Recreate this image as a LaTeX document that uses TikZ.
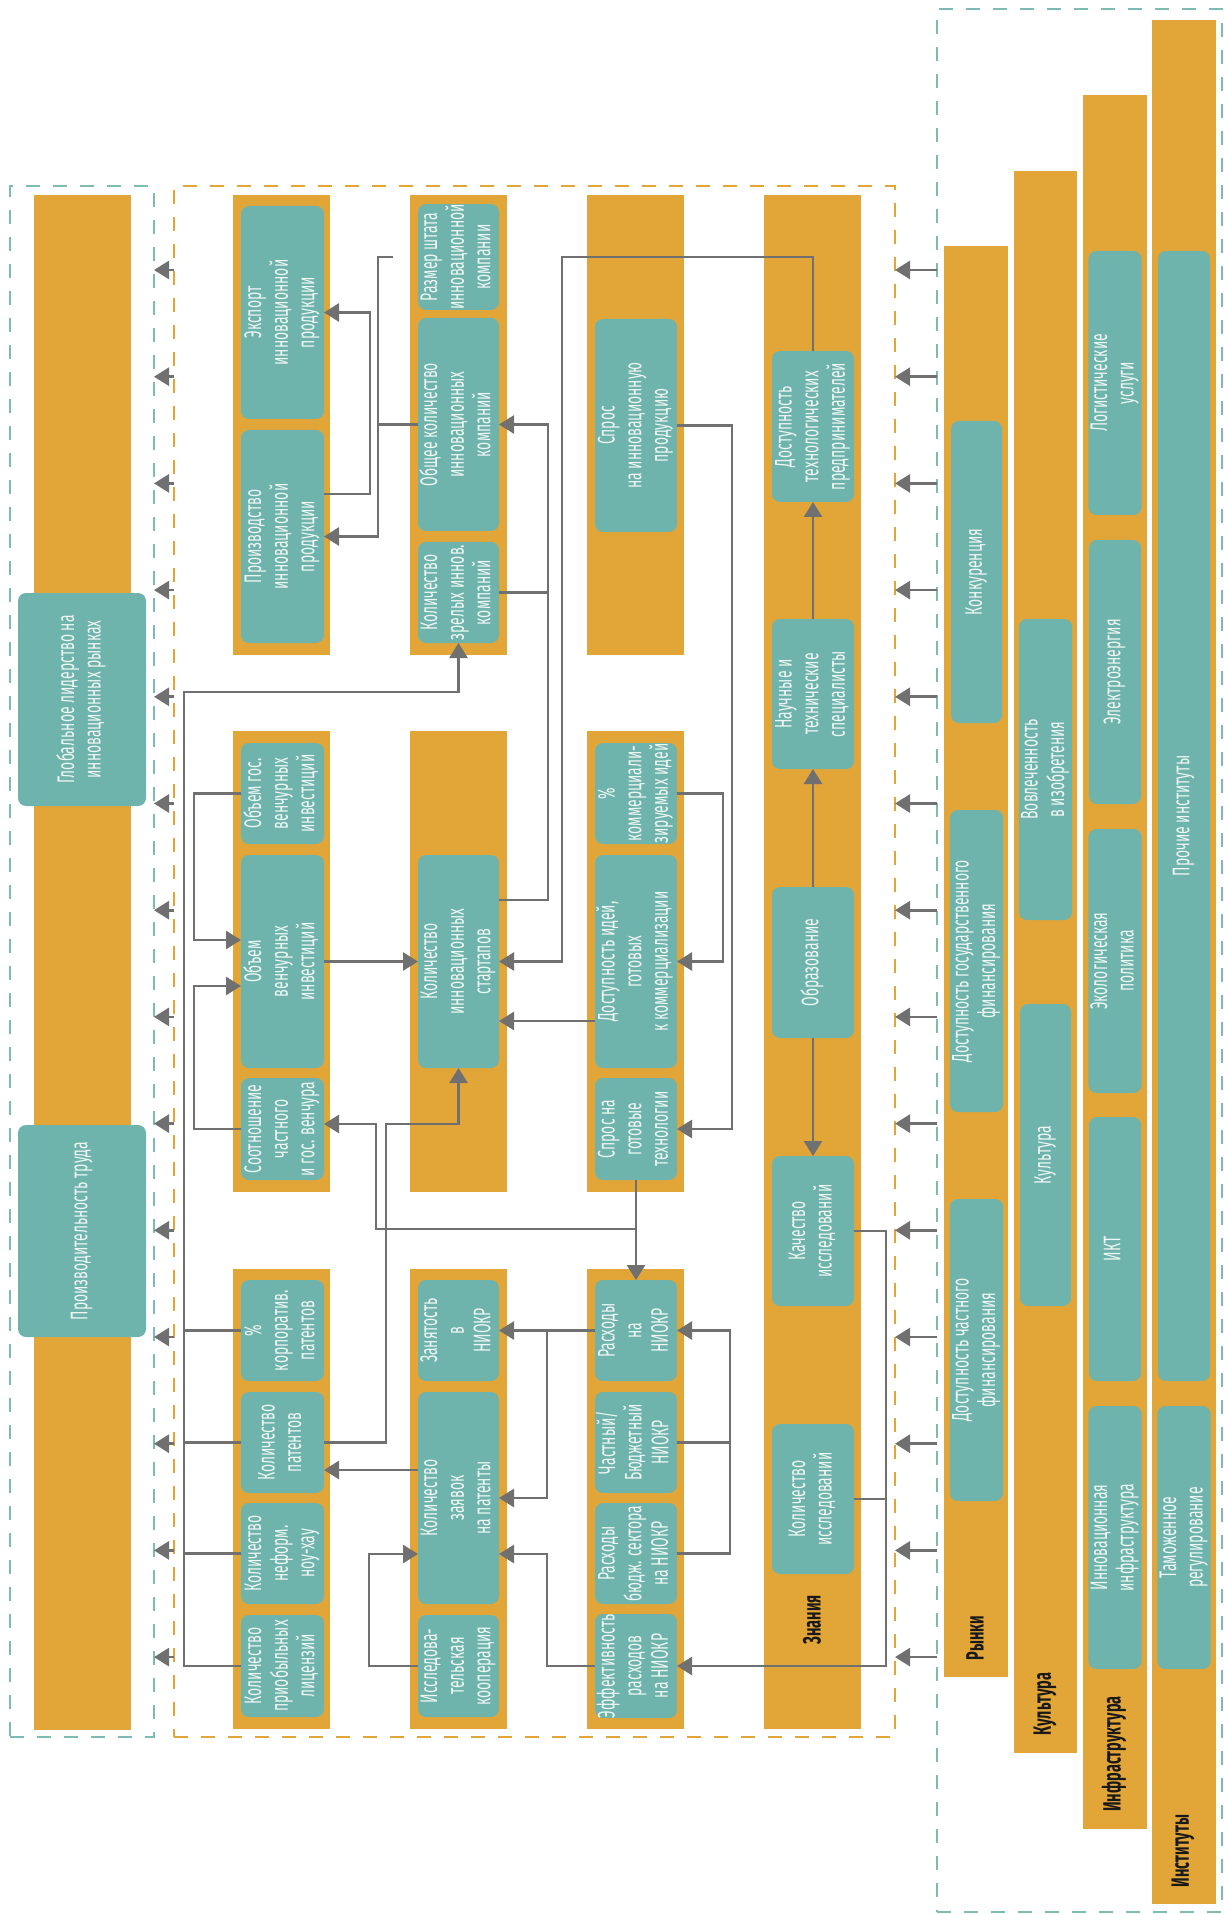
\documentclass[tikz,border=0pt]{standalone}
\usepackage{fontspec}
\setmainfont{Fira Sans}[FakeStretch=0.58]
\usetikzlibrary{arrows.meta}
\definecolor{org}{HTML}{E2A538}
\definecolor{tl}{HTML}{6FB4AC}
\definecolor{lnc}{HTML}{707070}
\definecolor{tld}{HTML}{7DBBB3}
\definecolor{txt}{HTML}{EEF6F4}
\newcommand\mybox[6]{%
 \pgfmathsetmacro\bxcx{(#2+#4)/2}%
 \pgfmathsetmacro\bxcy{(#3+#5)/2}%
 \pgfmathsetmacro\bxw{(#4-#2)/2}%
 \pgfmathsetmacro\bxh{(#5-#3)/2}%
 \node[tbox,minimum width=\bxw pt,minimum height=\bxh pt] (#1) at (\bxcx,\bxcy) {\rotatebox{90}{\begin{tabular}{@{}c@{}}#6\end{tabular}}};}
\newcommand\ocol[4]{\fill[org] (#1,#2) rectangle (#3,#4);}
\tikzset{
 tbox/.style={fill=tl,rounded corners=4pt,inner sep=0pt,outer sep=0pt,text=txt,font=\fontsize{12}{13.3}\selectfont},
 lab/.style={rotate=90,inner sep=0pt,text=black!90,font=\bfseries\fontsize{12.5}{14}\selectfont},
 wire/.style={draw=lnc,line width=1.35pt},
 arr/.style={wire,-{Triangle[length=7.5pt,width=9pt]}},
 dashbox/.style={line width=1.3pt,dash pattern=on 7pt off 6.5pt,inner sep=0pt,outer sep=0pt}
}
\begin{document}
\begin{tikzpicture}[x=0.5pt,y=-0.5pt]
\useasboundingbox (0,0) rectangle (1223,1914);
\fill[white] (0,0) rectangle (1223,1914);
% dashed frames
\node[dashbox,draw=tld,minimum width=72pt,minimum height=775.5pt] (lbox) at (82,961.5) {};
\node[dashbox,draw=org,minimum width=360.5pt,minimum height=775.5pt] (obox) at (534.5,961.5) {};
\node[dashbox,draw=tld,minimum width=142.5pt,minimum height=951.5pt] (rbox) at (1079.5,960.5) {};
% orange columns
\ocol{34}{195}{131}{1730}
\ocol{233}{195}{330}{655}\ocol{410}{195}{507}{655}\ocol{587}{195}{684}{655}
\ocol{233}{731}{330}{1192}\ocol{410}{731}{507}{1192}\ocol{587}{731}{684}{1192}
\ocol{233}{1269}{330}{1729}\ocol{410}{1269}{507}{1729}\ocol{587}{1269}{684}{1729}
\ocol{764}{195}{861}{1729}
\ocol{944}{246}{1008}{1677}
\ocol{1014}{171}{1077}{1753}
\ocol{1083}{95}{1147}{1829}
\ocol{1152}{20}{1216}{1904}
% left boxes
\mybox{glob}{18}{593}{146}{806}{Глобальное лидерство на\\инновационных рынках}
\mybox{prt}{18}{1125}{146}{1337}{Производительность труда}
% row 1
\mybox{exp}{241}{206}{324}{419}{Экспорт\\инновационной\\продукции}
\mybox{prod}{241}{430}{324}{643}{Производство\\инновационной\\продукции}
\mybox{shtat}{418}{206}{499}{308}{Размер штата\\инновационной\\компании}
\mybox{obsh}{418}{318}{499}{531}{Общее количество\\инновационных\\компаний}
\mybox{zrel}{418}{542}{499}{643}{Количество\\зрелых иннов.\\компаний}
\mybox{spros}{595}{319}{677}{532}{Спрос\\на инновационную\\продукцию}
% row 2
\mybox{ogv}{241}{743}{324}{844}{Объем гос.\\венчурных\\инвестиций}
\mybox{ov}{241}{855}{324}{1068}{Объем\\венчурных\\инвестиций}
\mybox{sootn}{241}{1078}{324}{1180}{Соотношение\\частного\\и гос. венчура}
\mybox{start}{418}{855}{499}{1068}{Количество\\инновационных\\стартапов}
\mybox{pcom}{595}{743}{677}{844}{\%\\коммерциали-\\зируемых идей}
\mybox{dost}{595}{855}{677}{1068}{Доступность идей,\\готовых\\к коммерциализации}
\mybox{sgt}{595}{1078}{677}{1180}{Спрос на\\готовые\\технологии}
% row 3
\mybox{pkp}{241}{1280}{324}{1381}{\%\\корпоратив.\\патентов}
\mybox{kp}{241}{1392}{324}{1493}{Количество\\патентов}
\mybox{kn}{241}{1503}{324}{1604}{Количество\\неформ.\\ноу-хау}
\mybox{kl}{241}{1615}{324}{1717}{Количество\\приобыльных\\лицензий}
\mybox{zan}{418}{1280}{499}{1381}{Занятость\\в\\НИОКР}
\mybox{kz}{418}{1392}{499}{1604}{Количество\\заявок\\на патенты}
\mybox{ik}{418}{1615}{499}{1717}{Исследова-\\тельская\\кооперация}
\mybox{rn}{595}{1280}{677}{1381}{Расходы\\на\\НИОКР}
\mybox{chb}{595}{1392}{677}{1493}{Частный/\\Бюджетный\\НИОКР}
\mybox{rbs}{595}{1503}{677}{1604}{Расходы\\бюдж. сектора\\на НИОКР}
\mybox{eff}{595}{1615}{677}{1717}{Эффективность\\расходов\\на НИОКР}
% knowledge
\mybox{dtp}{772}{351}{854}{502}{Доступность\\технологических\\предпринимателей}
\mybox{nts}{772}{619}{854}{769}{Научные и\\технические\\специалисты}
\mybox{obr}{772}{887}{854}{1038}{Образование}
\mybox{kach}{772}{1156}{854}{1306}{Качество\\исследований}
\mybox{kolis}{772}{1424}{854}{1574}{Количество\\исследований}
% markets
\mybox{konk}{951}{421}{1002}{723}{Конкуренция}
\mybox{dgf}{951}{810}{1002}{1112}{Доступность государственного\\финансирования}
\mybox{dchf}{951}{1199}{1002}{1501}{Доступность частного\\финансирования}
% culture
\mybox{vovl}{1020}{619}{1071}{920}{Вовлеченность\\в изобретения}
\mybox{kult}{1020}{1004}{1071}{1306}{Культура}
% infrastructure
\mybox{log}{1089}{251}{1141}{515}{Логистические\\услуги}
\mybox{el}{1089}{540}{1141}{804}{Электроэнергия}
\mybox{eco}{1089}{829}{1141}{1093}{Экологическая\\политика}
\mybox{ikt}{1089}{1117}{1141}{1381}{ИКТ}
\mybox{ii}{1089}{1406}{1141}{1669}{Инновационная\\инфраструктура}
% institutes
\mybox{proch}{1158}{251}{1210}{1381}{Прочие институты}
\mybox{tam}{1158}{1406}{1210}{1669}{Таможенное\\регулирование}
% labels
\node[lab] (lzn) at (812,1620) {Знания};
\node[lab] (lrn) at (975,1638) {Рынки};
\node[lab] (lku) at (1045,1704) {Культура};
\node[lab] (lin) at (1114,1754) {Инфраструктура};
\node[lab] (lis) at (1183,1851) {Институты};
% boundary arrows
\foreach \k in {0,...,13}{
 \pgfmathsetmacro\yy{270+\k*106.7}
 \draw[arr] (rbox.west |- 0,\yy) -- (obox.east |- 0,\yy);
 \draw[arr] (obox.west |- 0,\yy) -- (lbox.east |- 0,\yy);
}
% connectors
\coordinate (stub) at (393,257);
\draw[arr] (stub) -- (378,257) |- (prod.east);
\draw[wire] (obsh.west) -- (378,0 |- obsh.west);
\draw[arr] (prod.east |- 0,494) -- (370,494) |- (exp.east);
\draw[arr] (start.east |- 0,900) -- (548,900) |- (obsh.east);
\draw[wire] (zrel.east) -- (548,0 |- zrel.east);
\draw[arr] (dtp.north) |- (562,257) |- (start.east);
\draw[arr] (spros.east) -- (732,0 |- spros.east) |- (sgt.east);
\draw[arr] (pcom.east) -- (723,0 |- pcom.east) |- (dost.east);
\draw[arr] (dost.west |- 0,1021) -- (start.east |- 0,1021);
\draw[arr] (ov.east) -- (start.west);
\draw[arr] (ogv.west) -- (194,0 |- ogv.west) |- (ov.west |- 0,940);
\draw[arr] (sootn.west) -- (194,0 |- sootn.west) |- (ov.west |- 0,986);
\draw[arr] (kl.west) -| (184,692) -| (zrel.south);
\foreach \n in {pkp,kp,kn} \draw[wire] (\n.west) -- (184,0 |- \n.west);
\draw[arr] (kp.east) -| (386,1124) -| (start.south);
\draw[arr] (sgt.south) -- (rn.north);
\coordinate (br1) at (636,1229);
\draw[arr] (br1) -- (376,1229) |- (sootn.east |- 0,1124);
\draw[arr] (rn.west) -- (zan.east);
\draw[arr] (547,0 |- rn.west) |- (kz.east |- 0,1498);
\draw[arr] (eff.west) -- (547,0 |- eff.west) |- (kz.east |- 0,1554);
\draw[arr] (ik.west) -- (369,0 |- ik.west) |- (kz.west |- 0,1554);
\draw[arr] (kz.west |- 0,1470) -- (kp.east |- 0,1470);
\draw[wire] (chb.east) -- (730,0 |- chb.east);
\draw[arr] (rbs.east) -- (730,0 |- rbs.east) |- (rn.east);
\draw[arr] (kach.east) -- (886,0 |- kach.east) |- (eff.east);
\draw[wire] (kolis.east) -- (886,0 |- kolis.east);
\draw[arr] (obr.north) -- (nts.south);
\draw[arr] (nts.north) -- (dtp.south);
\draw[arr] (obr.south) -- (kach.north);
\end{tikzpicture}
\end{document}
